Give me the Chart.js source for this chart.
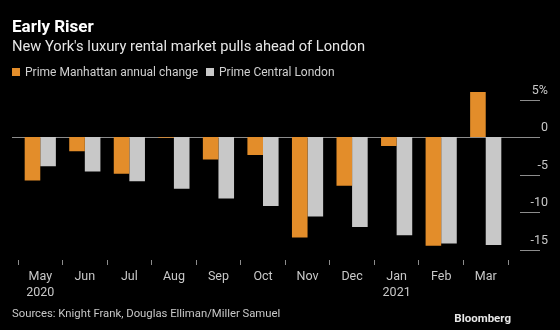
<!DOCTYPE html>
<html>
<head>
<meta charset="utf-8">
<script src="https://cdn.jsdelivr.net/npm/chart.js@4"></script>
<style>
  html, body { margin: 0; padding: 0; background: #000; }
  #wrap { position: relative; width: 560px; height: 330px; background: #000; overflow: hidden; font-family: Roboto, "Noto Sans", sans-serif; }
  #wrap canvas { position: absolute; left: 0; top: 0; }
  .txt { position: absolute; white-space: nowrap; }
  #title { left: 12px; top: 18px; font-size: 17px; line-height: 17px; font-weight: bold; color: #fff; }
  #subtitle { left: 12px; top: 38.5px; font-size: 14.7px; line-height: 15px; color: #e6e6e6; }
  .legend { top: 66px; font-size: 12px; line-height: 12px; color: #d0d0d0; }
  .swatch { position: absolute; top: 68px; width: 8px; height: 8px; }
  #source { left: 12px; top: 308px; font-size: 11.3px; line-height: 11px; color: #c8c8c8; }
  #brand { right: 49px; top: 313px; font-size: 11.5px; line-height: 11px; font-weight: bold; color: #e6e6e6; }
</style>
</head>
<body>
<div id="wrap">
  <canvas id="riserChart" width="560" height="330"></canvas>
  <div class="txt" id="title">Early Riser</div>
  <div class="txt" id="subtitle">New York's luxury rental market pulls ahead of London</div>
  <div class="swatch" style="left:12px;background:#e38d2a"></div>
  <div class="txt legend" style="left:25px">Prime Manhattan annual change</div>
  <div class="swatch" style="left:206px;background:#c8c8c8"></div>
  <div class="txt legend" style="left:219px">Prime Central London</div>
  <div class="txt" id="source">Sources: Knight Frank, Douglas Elliman/Miller Samuel</div>
  <div class="txt" id="brand">Bloomberg</div>
</div>
<script>
// monthly annual change in rents, %
const months = [["May", "2020"], "Jun", "Jul", "Aug", "Sep", "Oct", "Nov", "Dec", ["Jan", "2021"], "Feb", "Mar"];
const manhattan = [-5.8, -1.9, -4.9, -0.1, -3.0, -2.4, -13.4, -6.5, -1.2, -14.5, 6.0];
const london = [-3.9, -4.6, -5.9, -6.9, -8.2, -9.2, -10.6, -12.0, -13.1, -14.2, -14.4];
const yTicks = [5, 0, -5, -10, -15];
const yTickLabels = ["5%", "0", "-5", "-10", "-15"];

// zero line, right-hand tick marks and labels
const rightAxis = {
    id: "rightAxis",
    beforeDatasetsDraw(chart) {
        const ctx = chart.ctx;
        const y = chart.scales.y;
        ctx.save();
        ctx.strokeStyle = "#8c8c8c";
        ctx.lineWidth = 1;
        const y0 = Math.round(y.getPixelForValue(0)) + 0.5;
        ctx.beginPath();
        ctx.moveTo(12, y0);
        ctx.lineTo(540, y0);
        ctx.stroke();
        ctx.restore();
    },
    afterDraw(chart) {
        const ctx = chart.ctx;
        const y = chart.scales.y;
        ctx.save();
        ctx.strokeStyle = "#8c8c8c";
        ctx.lineWidth = 1;
        ctx.fillStyle = "#c8c8c8";
        ctx.font = "12.5px Roboto, 'Noto Sans', sans-serif";
        ctx.textAlign = "right";
        ctx.textBaseline = "bottom";
        yTicks.forEach((v, i) => {
            const py = Math.round(y.getPixelForValue(v)) + 0.5;
            if (v !== 0) {
                ctx.beginPath();
                ctx.moveTo(520, py);
                ctx.lineTo(540, py);
                ctx.stroke();
            }
            ctx.fillText(yTickLabels[i], 548, py - 3);
        });
        ctx.restore();
    },
};

const riserChart = new Chart(document.getElementById("riserChart"), {
    type: "bar",
    data: {
        labels: months,
        datasets: [
            {
                label: "Prime Manhattan annual change",
                data: manhattan,
                backgroundColor: "#e38d2a",
            },
            {
                label: "Prime Central London",
                data: london,
                backgroundColor: "#c8c8c8",
            },
        ],
    },
    options: {
        responsive: false,
        animation: false,
        layout: {
            padding: { left: 18, right: 52, top: 84.5, bottom: 20 },
        },
        datasets: {
            bar: {
                barPercentage: 1,
                categoryPercentage: 0.7,
            },
        },
        scales: {
            x: {
                grid: {
                    display: true,
                    drawOnChartArea: false,
                    tickLength: 5,
                    color: "#8c8c8c",
                },
                border: { display: false },
                ticks: {
                    color: "#c8c8c8",
                    font: { family: "Roboto, 'Noto Sans', sans-serif", size: 12.5, lineHeight: 1.35 },
                    padding: 3,
                    maxRotation: 0,
                    autoSkip: false,
                },
                afterFit(scale) {
                    scale.height = 50;
                },
            },
            y: {
                display: false,
                min: -16.4,
                max: 7,
            },
        },
        plugins: {
            legend: { display: false },
            tooltip: { enabled: false },
        },
    },
    plugins: [rightAxis],
});
</script>
</body>
</html>
